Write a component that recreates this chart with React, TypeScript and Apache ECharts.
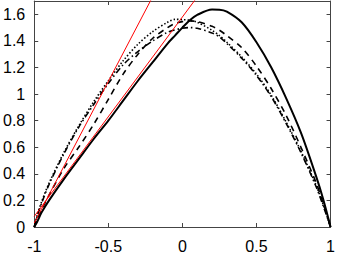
import React, { useEffect, useRef } from 'react';
import * as echarts from 'echarts';

const xs = [-1, -0.98, -0.95, -0.9, -0.8, -0.7, -0.6, -0.5, -0.4, -0.3, -0.2, -0.1, -0.05, 0, 0.05, 0.1, 0.2, 0.25, 0.3, 0.4, 0.5, 0.6, 0.7, 0.8, 0.9, 0.95, 1];
const solidY = [0, 0.04, 0.11, 0.2, 0.36, 0.51, 0.66, 0.8, 0.95, 1.1, 1.24, 1.38, 1.44, 1.5, 1.555, 1.595, 1.636, 1.635, 1.62, 1.54, 1.39, 1.2, 0.97, 0.71, 0.39, 0.21, 0];
const dottedY = [0, 0.09, 0.19, 0.33, 0.56, 0.76, 0.94, 1.1, 1.25, 1.375, 1.47, 1.54, 1.562, 1.56, 1.555, 1.54, 1.48, 1.44, 1.39, 1.28, 1.15, 0.99, 0.79, 0.57, 0.32, 0.17, 0];
const dashDotY = [0, 0.08, 0.18, 0.32, 0.55, 0.75, 0.92, 1.08, 1.22, 1.32, 1.4, 1.465, 1.483, 1.495, 1.5, 1.495, 1.46, 1.43, 1.38, 1.27, 1.14, 0.98, 0.78, 0.56, 0.31, 0.16, 0];
const dashedY = [0, 0.06, 0.13, 0.24, 0.44, 0.6, 0.77, 0.96, 1.15, 1.3, 1.42, 1.5, 1.53, 1.545, 1.55, 1.545, 1.51, 1.48, 1.44, 1.35, 1.21, 1.04, 0.84, 0.6, 0.34, 0.18, 0];
const red1X = [-1, -0.2];
const red1Y = [0.03, 1.734];
const red2X = [-1, 0.1];
const red2Y = [0.08, 1.73];

const zip = (a: number[], b: number[]) => a.map((v, i) => [v, b[i]]);

const FONT = 'Liberation Sans';
const AX = '#444';

export default function App() {
  const ref = useRef<HTMLDivElement>(null);
  useEffect(() => {
    const chart = echarts.init(ref.current!, null, { renderer: 'svg' });
    const xBase = {
      type: 'value' as const, min: -1, max: 1, interval: 0.5,
      axisLine: { show: true, onZero: false, lineStyle: { color: AX, width: 1 } },
      axisTick: { show: true, inside: true, length: 4, lineStyle: { color: AX } },
      splitLine: { show: false },
    };
    const yBase = {
      type: 'value' as const, min: 0, max: 1.7, interval: 0.2,
      axisLine: { show: true, onZero: false, lineStyle: { color: AX, width: 1 } },
      axisTick: { show: true, inside: true, length: 4, lineStyle: { color: AX } },
      splitLine: { show: false },
    };
    chart.setOption({
      animation: false,
      grid: { left: 33, right: 5.5, top: 1, bottom: 25, containLabel: false },
      xAxis: [
        { ...xBase, position: 'bottom', axisLabel: { color: '#000', fontFamily: FONT, fontSize: 16, margin: 11 } },
        { ...xBase, position: 'top', axisLabel: { show: false } },
      ],
      yAxis: [
        { ...yBase, position: 'left', axisLabel: { color: '#000', fontFamily: FONT, fontSize: 16, margin: 9, showMaxLabel: false } },
        { ...yBase, position: 'right', axisLabel: { show: false } },
      ],
      series: [
        { type: 'line', data: zip(xs, solidY), smooth: 0.3, showSymbol: false, lineStyle: { color: '#000', width: 2, type: 'solid' } },
        { type: 'line', data: zip(xs, dashedY), smooth: 0.3, showSymbol: false, lineStyle: { color: '#000', width: 1.6, type: [6, 5] } },
        { type: 'line', data: zip(xs, dashDotY), smooth: 0.3, showSymbol: false, lineStyle: { color: '#000', width: 1.6, type: [6, 3, 1.5, 3] } },
        { type: 'line', data: zip(xs, dottedY), smooth: 0.3, showSymbol: false, lineStyle: { color: '#000', width: 1.6, type: [1.5, 2] } },
        { type: 'line', data: zip(red1X, red1Y), showSymbol: false, lineStyle: { color: '#ff0000', width: 1 } },
        { type: 'line', data: zip(red2X, red2Y), showSymbol: false, lineStyle: { color: '#ff0000', width: 1 } },
      ],
    });
    return () => chart.dispose();
  }, []);
  return <div ref={ref} style={{ position: 'fixed', left: 0, top: 0, width: 338, height: 254, background: '#fff' }} />;
}
